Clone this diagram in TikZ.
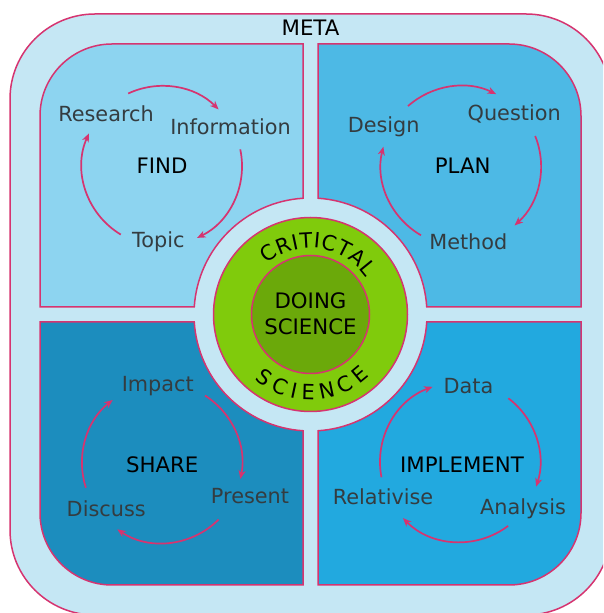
\documentclass[tikz,border=0pt]{standalone}
\usepackage{fontspec}
\setmainfont{DejaVu Sans}
\usetikzlibrary{arrows.meta,calc,decorations.text}

\definecolor{rim}{RGB}{214,52,112}
\definecolor{metablue}{RGB}{197,231,244}
\definecolor{findblue}{RGB}{141,212,240}
\definecolor{planblue}{RGB}{77,185,229}
\definecolor{shareblue}{RGB}{28,141,190}
\definecolor{implblue}{RGB}{34,169,223}
\definecolor{ringgreen}{RGB}{128,203,12}
\definecolor{coregreen}{RGB}{107,169,10}
\definecolor{labelgrey}{RGB}{52,60,64}

\newcommand\ringfont{\fontsize{21}{21}\selectfont}

\begin{document}
\begin{tikzpicture}[x=1pt,y=1pt,
  rimline/.style={draw=rim,line width=1.5pt},
  steplabel/.style={text=labelgrey,font=\fontsize{20.8}{24}\selectfont,anchor=base,inner sep=0pt},
  phase/.style={text=black,font=\fontsize{21.3}{24}\selectfont,anchor=base,inner sep=0pt},
  ringtext/.style={decorate,font=\ringfont,decoration={text along path,text align=fit to path,#1}},
  cyc/.style={draw=rim,line width=1.7pt,-{Stealth[length=8.5pt,width=7pt,inset=2.5pt]}}]

\clip (0,0) rectangle (603,613);
\fill[white] (0,0) rectangle (603,613);

% outer META frame
\path[rimline,fill=metablue,rounded corners=85pt] (10,-2) rectangle (611,599);
\node[phase] (meta) at (310.5,577.5) {META};

% four quadrants, each with a round cut around the hub
\path[rimline,fill=findblue] (40,306) -- (40,497) arc[start angle=180,end angle=90,radius=72]
  -- (303,569) -- (303,414.76) arc[start angle=93.69,end angle=176.31,radius=116.5] -- cycle;
\path[rimline,fill=planblue] (318,569) -- (509,569) arc[start angle=90,end angle=0,radius=72]
  -- (581,306) -- (426.76,306) arc[start angle=3.69,end angle=86.31,radius=116.5] -- cycle;
\path[rimline,fill=shareblue] (40,291) -- (194.24,291) arc[start angle=183.69,end angle=266.31,radius=116.5]
  -- (303,28) -- (112,28) arc[start angle=270,end angle=180,radius=72] -- cycle;
\path[rimline,fill=implblue] (581,291) -- (426.76,291) arc[start angle=356.31,end angle=273.69,radius=116.5]
  -- (318,28) -- (509,28) arc[start angle=270,end angle=360,radius=72] -- cycle;

% central hub
\coordinate (hub) at (310.5,298.5);
\path[rimline,fill=ringgreen] (hub) circle[radius=97];
\path[rimline,fill=coregreen] (hub) circle[radius=59];
\node[phase] (doing) at (310.5,304.3) {DOING};
\node[phase] (science) at (310.5,278.8) {SCIENCE};
{\ringfont
\path[ringtext={text={|\ringfont|CRITICTAL}}]
  ($(hub)+(131:66.5)$) arc[start angle=131,end angle=34,radius=66.5];
\path[ringtext={text={|\ringfont|SCIENCE}}]
  ($(hub)+(229:85.5)$) arc[start angle=229,end angle=314,radius=85.5];
}

% FIND cycle
\coordinate (findc) at (162,447);
\node[phase] (find) at (162,439.5) {FIND};
\node[steplabel] (research) at (106,491.5) {Research};
\node[steplabel] (information) at (230.5,478.5) {Information};
\node[steplabel] (topic) at (158.3,365.5) {Topic};
\draw[cyc] ($(findc)+(115:80)$) arc[start angle=115,end angle=45,radius=80];
\draw[cyc] ($(findc)+(12:80)$) arc[start angle=12,end angle=-64,radius=80];
\draw[cyc] ($(findc)+(239:80)$) arc[start angle=239,end angle=156,radius=80];

% PLAN cycle
\coordinate (planc) at (461,447);
\node[phase] (plan) at (462.7,439.5) {PLAN};
\node[steplabel] (design) at (383.7,480.8) {Design};
\node[steplabel] (question) at (514.2,492.7) {Question};
\node[steplabel] (method) at (468.3,363) {Method};
\draw[cyc] ($(planc)+(131.5:80)$) arc[start angle=131.5,end angle=64,radius=80];
\draw[cyc] ($(planc)+(22:80)$) arc[start angle=22,end angle=-48,radius=80];
\draw[cyc] ($(planc)+(240:80)$) arc[start angle=240,end angle=166,radius=80];

% SHARE cycle
\coordinate (sharec) at (162,150);
\node[phase] (share) at (162.2,140.5) {SHARE};
\node[steplabel] (impact) at (157.8,221) {Impact};
\node[steplabel] (present) at (250,109.3) {Present};
\node[steplabel] (discuss) at (106.2,96.8) {Discuss};
\draw[cyc] ($(sharec)+(57.5:80)$) arc[start angle=57.5,end angle=-11.5,radius=80];
\draw[cyc] ($(sharec)+(-45:80)$) arc[start angle=-45,end angle=-124,radius=80];
\draw[cyc] ($(sharec)+(198:80)$) arc[start angle=198,end angle=128,radius=80];

% IMPLEMENT cycle
\coordinate (implc) at (460,151);
\node[phase] (implement) at (462,140.2) {IMPLEMENT};
\node[steplabel] (data) at (468.5,219.3) {Data};
\node[steplabel] (analysis) at (523,98.3) {Analysis};
\node[steplabel] (relativise) at (383,108.7) {Relativise};
\draw[cyc] ($(implc)+(52.8:80)$) arc[start angle=52.8,end angle=-18,radius=80];
\draw[cyc] ($(implc)+(-53:80)$) arc[start angle=-53,end angle=-135.5,radius=80];
\draw[cyc] ($(implc)+(191:80)$) arc[start angle=191,end angle=110,radius=80];
\end{tikzpicture}
\end{document}
